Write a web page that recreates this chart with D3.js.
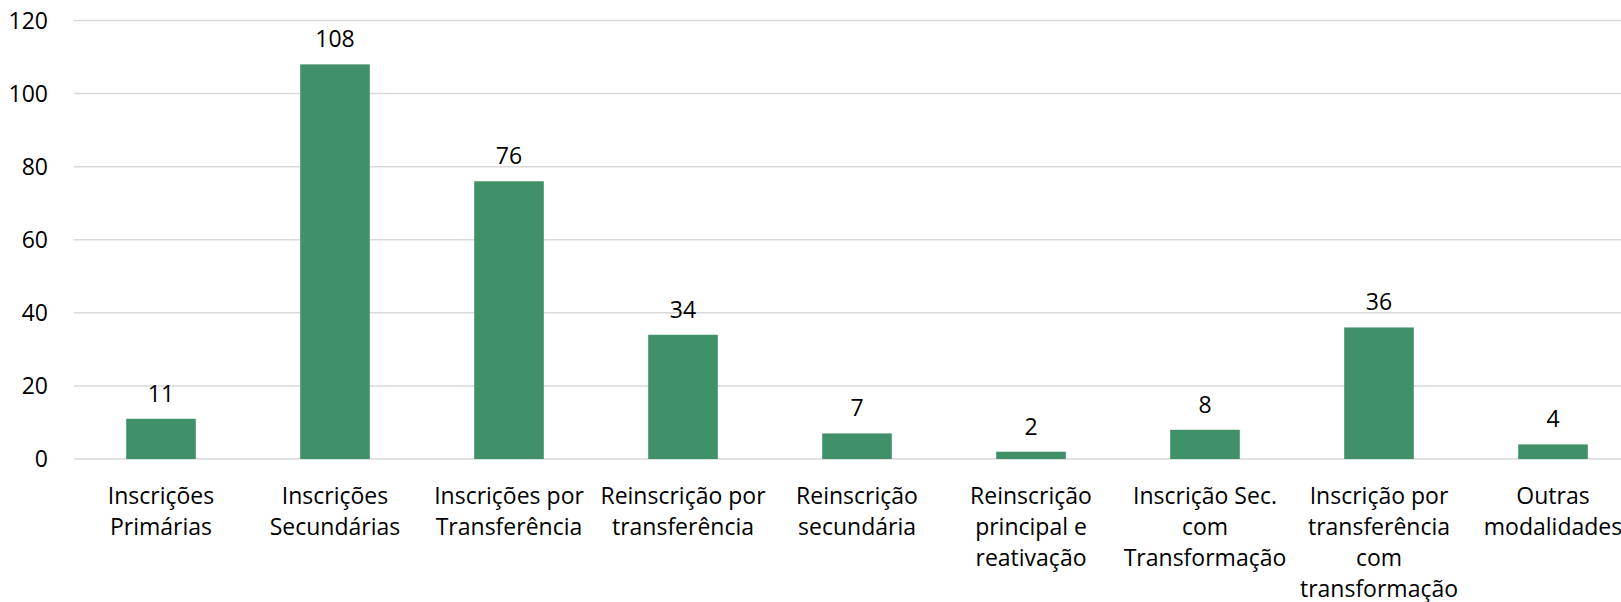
<!DOCTYPE html>
<html>
<head>
  <meta charset="utf-8">
  <title>Inscrições por modalidade</title>
  <script src="https://cdn.jsdelivr.net/npm/d3@7"></script>
  <style>
    body { margin: 0; background: #fff; }
    svg text { font-family: "Open Sans", "Noto Sans", sans-serif; fill: #000; }
  </style>
</head>
<body>
<script>
// categories (line breaks as in the picture) and values
var categories = [
  "Inscrições\nPrimárias",
  "Inscrições\nSecundárias",
  "Inscrições por\nTransferência",
  "Reinscrição por\ntransferência",
  "Reinscrição\nsecundária",
  "Reinscrição\nprincipal e\nreativação",
  "Inscrição Sec.\ncom\nTransformação",
  "Inscrição por\ntransferência\ncom\ntransformação",
  "Outras\nmodalidades"
];
var values = [11, 108, 76, 34, 7, 2, 8, 36, 4];
var yTicks = [0, 20, 40, 60, 80, 100, 120];

var w = 1621, h = 602;
// careful: "top" is taken by window.top
var plotLeft = 74, plotTop = 20.5, plotBottom = 459;
// plot runs past the right edge, the last column is cut like the original
var plotRight = 1640;

var svg = d3.select("body").append("svg")
  .attr("width", w)
  .attr("height", h);

var x = d3.scaleBand()
  .domain(d3.range(categories.length))
  .range([plotLeft, plotRight])
  .paddingInner(0.6)
  .paddingOuter(0.3);

var y = d3.scaleLinear()
  .domain([0, 120])
  .range([plotBottom, plotTop]);

// gridlines
svg.selectAll("line.grid")
  .data(yTicks)
  .enter()
  .append("line")
  .attr("class", "grid")
  .attr("x1", plotLeft)
  .attr("x2", w)
  .attr("y1", function(d) { return y(d); })
  .attr("y2", function(d) { return y(d); })
  .attr("stroke", "#d9d9d9")
  .attr("stroke-width", 1.5);

// y tick labels
svg.selectAll("text.ytick")
  .data(yTicks)
  .enter()
  .append("text")
  .attr("class", "ytick")
  .attr("x", 48)
  .attr("y", function(d) { return y(d); })
  .attr("dy", "0.35em")
  .attr("text-anchor", "end")
  .attr("font-size", "23px")
  .text(function(d) { return d; });

// bars
svg.selectAll("rect")
  .data(values)
  .enter()
  .append("rect")
  .attr("x", function(d, i) { return x(i); })
  .attr("y", function(d) { return y(d); })
  .attr("width", x.bandwidth())
  .attr("height", function(d) { return plotBottom - y(d); })
  .attr("fill", "#409069");

// value labels
svg.selectAll("text.val")
  .data(values)
  .enter()
  .append("text")
  .attr("class", "val")
  .attr("x", function(d, i) { return x(i) + x.bandwidth() / 2; })
  .attr("y", function(d) { return y(d) - 17; })
  .attr("text-anchor", "middle")
  .attr("font-size", "23px")
  .text(function(d) { return d; });

// category labels
var cat = svg.selectAll("text.cat")
  .data(categories)
  .enter()
  .append("text")
  .attr("class", "cat")
  .attr("text-anchor", "middle")
  .attr("font-size", "23px")
  .attr("transform", function(d, i) {
    return "translate(" + (x(i) + x.bandwidth() / 2) + "," + (plotBottom + 45) + ")";
  });

cat.selectAll("tspan")
  .data(function(d) { return d.split("\n"); })
  .enter()
  .append("tspan")
  .attr("x", 0)
  .attr("y", function(d, i) { return i * 31; })
  .text(function(d) { return d; });
</script>
</body>
</html>
